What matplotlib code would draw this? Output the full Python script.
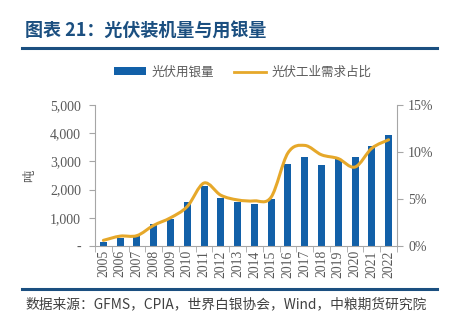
import matplotlib
matplotlib.use("Agg")
import matplotlib.pyplot as plt
from matplotlib.path import Path
from matplotlib.patches import PathPatch, Patch
from matplotlib.lines import Line2D
import numpy as np

plt.rcParams['font.family'] = ['Noto Sans CJK SC', 'DejaVu Sans']

# data
years = [str(y) for y in range(2005, 2023)]
silver_tons = [150, 300, 370, 780, 945, 1570, 2130, 1690, 1560, 1500,
               1680, 2910, 3170, 2860, 3070, 3145, 3550, 3950]
pv_share = [0.6, 1.05, 1.1, 2.2, 3.0, 4.2, 6.7, 5.4, 4.9, 4.8,
            5.2, 9.9, 10.7, 9.7, 9.3, 8.4, 10.4, 11.3]
left_ticks = [0, 1000, 2000, 3000, 4000, 5000]
left_labels = ['-', '1,000', '2,000', '3,000', '4,000', '5,000']
right_ticks = [0, 5, 10, 15]
right_labels = ['0%', '5%', '10%', '15%']

BLUE = '#1260A8'
GOLD = '#E6A82A'
DARK = '#1B4F80'
GRAY = '#595959'
num_font = 'Liberation Serif'

fig = plt.figure(figsize=(4.62, 3.33), dpi=100)
ax = fig.add_axes([0.2056, 0.2613, 0.6537, 0.4234])
x = np.arange(len(years))
ax.bar(x, silver_tons, width=0.42, color=BLUE, zorder=2)
ax.set_xlim(-0.5, len(years) - 0.5)
ax.set_ylim(0, 5000)
ax.set_yticks(left_ticks)
ax.set_yticklabels(left_labels, family=num_font, fontsize=10, color=GRAY)
ax.set_xticks(x)
ax.set_xticklabels(years, rotation=90, family=num_font, fontsize=9.8, color=GRAY)
ax.tick_params(axis='x', length=0, pad=3)
ax.set_xticks(np.arange(-0.5, len(years)), minor=True)
ax.tick_params(axis='x', which='minor', length=4, color='#A6A6A6')
ax.tick_params(axis='y', length=4, color='#A6A6A6', pad=6)
ax.set_ylabel('吨', fontsize=9, color=GRAY, labelpad=10)
for s in ['top', 'right']:
    ax.spines[s].set_visible(False)
for s in ['left', 'bottom']:
    ax.spines[s].set_color('#A6A6A6')

ax2 = ax.twinx()
ax2.set_ylim(0, 15)
ax2.set_yticks(right_ticks)
ax2.set_yticklabels(right_labels, family=num_font, fontsize=10, color=GRAY)
ax2.tick_params(axis='y', length=4, color='#A6A6A6', pad=4)
for s in ['top', 'left', 'bottom']:
    ax2.spines[s].set_visible(False)
ax2.spines['right'].set_color('#A6A6A6')

# smooth line through the points (Catmull-Rom as cubic bezier path)
px = x.astype(float)
py = np.array(pv_share, dtype=float)
verts = [(px[0], py[0])]
codes = [Path.MOVETO]
n = len(px)
for i in range(n - 1):
    p0 = (px[max(i - 1, 0)], py[max(i - 1, 0)])
    p1 = (px[i], py[i])
    p2 = (px[i + 1], py[i + 1])
    p3 = (px[min(i + 2, n - 1)], py[min(i + 2, n - 1)])
    c1 = (p1[0] + (p2[0] - p0[0]) / 6, p1[1] + (p2[1] - p0[1]) / 6)
    c2 = (p2[0] - (p3[0] - p1[0]) / 6, p2[1] - (p3[1] - p1[1]) / 6)
    verts += [c1, c2, p2]
    codes += [Path.CURVE4] * 3
ax2.add_patch(PathPatch(Path(verts, codes), facecolor='none', edgecolor=GOLD,
                        lw=2.2, capstyle='round', joinstyle='round', zorder=3))

# legend
handles = [Patch(facecolor=BLUE), Line2D([], [], color=GOLD, lw=2)]
fig.legend(handles, ['光伏用银量', '光伏工业需求占比'], loc='center',
           bbox_to_anchor=(0.525, 0.783), ncol=2, frameon=False, fontsize=9,
           handlelength=2.6, handleheight=0.6, handletextpad=0.4,
           columnspacing=1.6, labelcolor=GRAY)

# title, rules and source
fig.text(0.055, 0.905, '图表 21：光伏装机量与用银量', fontsize=13, weight='bold',
         color=DARK, va='center')
fig.add_artist(Line2D([0.048, 0.946], [0.856, 0.856], color=DARK, lw=2.2))
fig.add_artist(Line2D([0.048, 0.946], [0.133, 0.133], color=DARK, lw=2.2))
fig.text(0.055, 0.085, '数据来源：GFMS，CPIA，世界白银协会，Wind，中粮期货研究院',
         fontsize=9.9, color='#404040', va='center', style='italic')

fig.savefig('out.png', dpi=100)
